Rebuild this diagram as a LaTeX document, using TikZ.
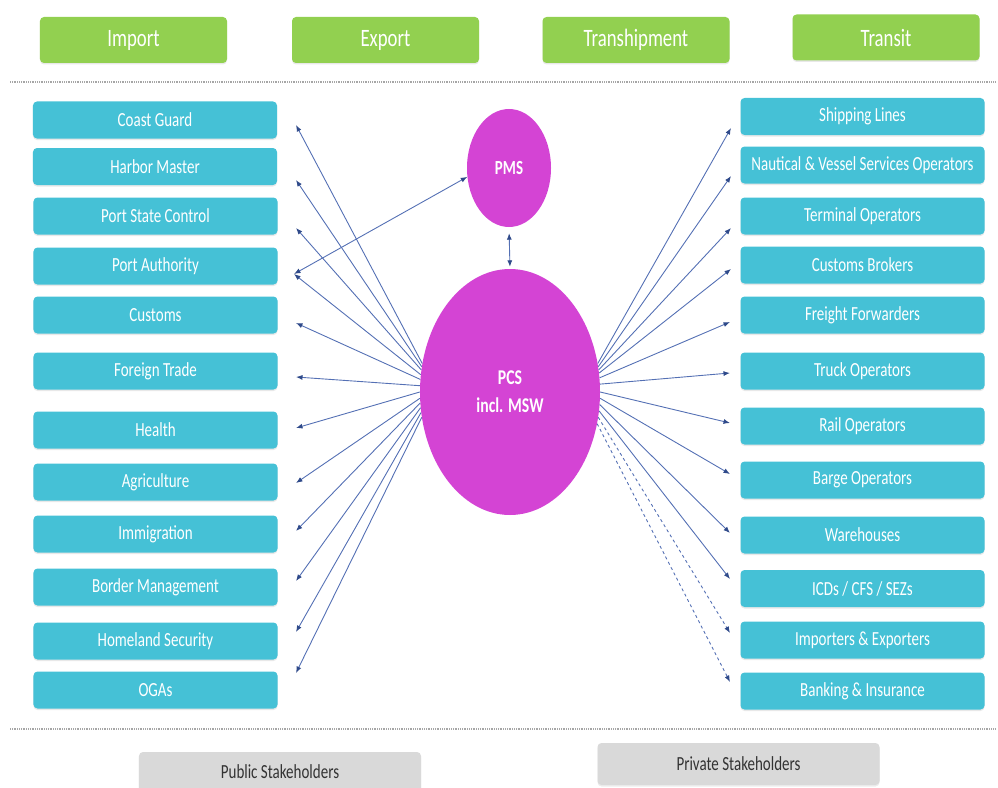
\documentclass[tikz,border=0pt]{standalone}
\usepackage{fontspec}
\setmainfont{Carlito}[FakeStretch=0.75]
\usetikzlibrary{shapes.geometric,arrows.meta,shadows}
\definecolor{hgreen}{HTML}{92D050}
\definecolor{scyan}{HTML}{45C1D6}
\definecolor{pcsmag}{HTML}{D444D4}
\definecolor{linkc}{HTML}{5470B4}
\definecolor{tipc}{HTML}{2F4A8A}
\definecolor{gbox}{HTML}{D9D9D9}
\definecolor{gtext}{HTML}{333333}
\tikzset{
  hdr/.style={fill=hgreen, rounded corners=4bp, minimum width=187bp, minimum height=46bp, inner sep=0pt, text=white, font=\fontsize{25bp}{27bp}\selectfont,
    drop shadow={opacity=0.18, shadow xshift=0bp, shadow yshift=-1.5bp}},
  sbox/.style={fill=scyan, rounded corners=4bp, minimum width=244bp, minimum height=37bp, inner sep=0pt, text=white, font=\fontsize{20bp}{22bp}\selectfont,
    drop shadow={opacity=0.18, shadow xshift=0bp, shadow yshift=-1.5bp}},
  gybox/.style={fill=gbox, rounded corners=4bp, minimum width=282bp, inner sep=0pt, text=gtext, font=\fontsize{20bp}{22bp}\selectfont,
    drop shadow={opacity=0.15, shadow xshift=0bp, shadow yshift=-1.5bp}},
  blob/.style={ellipse, fill=pcsmag, inner sep=0pt, text=white, font=\bfseries\fontsize{21bp}{25bp}\selectfont, align=center},
  link/.style={draw=linkc, line width=0.9bp, -{Latex[length=6.5bp,width=5bp,fill=tipc,color=tipc]}},
  dlink/.style={link, {Latex[length=6.5bp,width=5bp,fill=tipc,color=tipc]}-{Latex[length=6.5bp,width=5bp,fill=tipc,color=tipc]}},
  sep/.style={draw=gray!70, line width=1.2bp, dash pattern=on 0.8bp off 1bp},
}
\begin{document}
\begin{tikzpicture}[x=1bp,y=-1bp]
\useasboundingbox (0,0) rectangle (998,788);
% headers
\node[hdr] (imp) at (133.5,40) {Import};
\node[hdr] (exp) at (385.5,40) {Export};
\node[hdr] (trs) at (636,40) {Transhipment};
\node[hdr] (trn) at (886,37.5) {Transit};
% separators
\coordinate (s1a) at (10,82); \coordinate (s1b) at (995,82);
\draw[sep] (s1a) -- (s1b);
\coordinate (s2a) at (10,729); \coordinate (s2b) at (995,729);
\draw[sep] (s2a) -- (s2b);
% left boxes
\node[sbox] (cg) at (155,120) {Coast Guard};
\node[sbox] (hm) at (155,166.5) {Harbor Master};
\node[sbox] (psc) at (155.5,216) {Port State Control};
\node[sbox] (pa) at (155.5,266) {Port Authority};
\node[sbox] (cu) at (155.5,315) {Customs};
\node[sbox] (ft) at (155.5,371) {Foreign Trade};
\node[sbox] (he) at (155.5,430) {Health};
\node[sbox] (ag) at (155.5,482) {Agriculture};
\node[sbox] (im) at (155.5,534) {Immigration};
\node[sbox] (bm) at (155.5,587) {Border Management};
\node[sbox] (hs) at (155.5,641) {Homeland Security};
\node[sbox] (og) at (155.5,690) {OGAs};
% right boxes
\node[sbox] (sl) at (862.5,116.5) {Shipping Lines};
\node[sbox] (nv) at (862.5,165) {Nautical \& Vessel Services Operators};
\node[sbox] (to) at (862.5,216) {Terminal Operators};
\node[sbox] (cb) at (862.5,265) {Customs Brokers};
\node[sbox] (ff) at (862.5,315) {Freight Forwarders};
\node[sbox] (tr) at (862.5,371) {Truck Operators};
\node[sbox] (ro) at (862.5,426) {Rail Operators};
\node[sbox] (bo) at (862.5,480) {Barge Operators};
\node[sbox] (wh) at (862.5,535) {Warehouses};
\node[sbox] (icd) at (862.5,588.5) {ICDs / CFS / SEZs};
\node[sbox] (ie) at (862.5,640) {Importers \& Exporters};
\node[sbox] (bi) at (862.5,691) {Banking \& Insurance};
% bottom
\node[gybox, minimum height=40bp] (pub) at (280,772) {Public Stakeholders};
\node[gybox, minimum height=42bp] (pri) at (738.5,764) {Private Stakeholders};
% ellipses
\node[blob, minimum width=84bp, minimum height=118bp, font=\bfseries\fontsize{20bp}{22bp}\selectfont] (pms) at (509,168) {PMS};
\node[blob, minimum width=180bp, minimum height=246bp] (pcs) at (510,392) {PCS\\[3bp]incl. MSW};
% tip coordinates left
\coordinate (tcg) at (296,125);
\coordinate (thm) at (296,180);
\coordinate (tpsc) at (296,228);
\coordinate (tpa) at (294,274);
\coordinate (tcu) at (296,323);
\coordinate (tft) at (296,377);
\coordinate (the) at (296,428);
\coordinate (tag) at (296,483);
\coordinate (tim) at (296,531);
\coordinate (tbm) at (296,581);
\coordinate (ths) at (296,632);
\coordinate (tog) at (296,673);
% tip coordinates right
\coordinate (tsl) at (731,128);
\coordinate (tnv) at (731,176);
\coordinate (tto) at (731,228);
\coordinate (tcb) at (731,269);
\coordinate (tff) at (730,322);
\coordinate (ttr) at (730,373);
\coordinate (tro) at (730,423);
\coordinate (tbo) at (730,474);
\coordinate (twh) at (730,533);
\coordinate (ticd) at (730,579);
\coordinate (tie) at (730,633);
\coordinate (tbi) at (730,682);
% left links
\draw[link] (pcs.162) -- (tcg);
\draw[link] (pcs.164) -- (thm);
\draw[link] (pcs.166) -- (tpsc);
\draw[link] (pcs.169) -- (tpa);
\draw[link] (pcs.172) -- (tcu);
\draw[link] (pcs.176) -- (tft);
\draw[link] (pcs.180) -- (the);
\draw[link] (pcs.184) -- (tag);
\draw[link] (pcs.187) -- (tim);
\draw[link] (pcs.190) -- (tbm);
\draw[link] (pcs.193) -- (ths);
\draw[link] (pcs.196) -- (tog);
% right links
\draw[link] (pcs.18) -- (tsl);
\draw[link] (pcs.16) -- (tnv);
\draw[link] (pcs.14) -- (tto);
\draw[link] (pcs.12) -- (tcb);
\draw[link] (pcs.9) -- (tff);
\draw[link] (pcs.5) -- (ttr);
\draw[link] (pcs.0) -- (tro);
\draw[link] (pcs.-4) -- (tbo);
\draw[link] (pcs.-8) -- (twh);
\draw[link] (pcs.-12) -- (ticd);
\draw[link, dashed] (pcs.-16) -- (tie);
\draw[link, dashed] (pcs.-20) -- (tbi);
% PMS links
\draw[dlink] (tpa) -- (pms.192);
\draw[dlink, shorten <=6bp, shorten >=2bp] (pms.south) -- (pcs.north);
\end{tikzpicture}
\end{document}
